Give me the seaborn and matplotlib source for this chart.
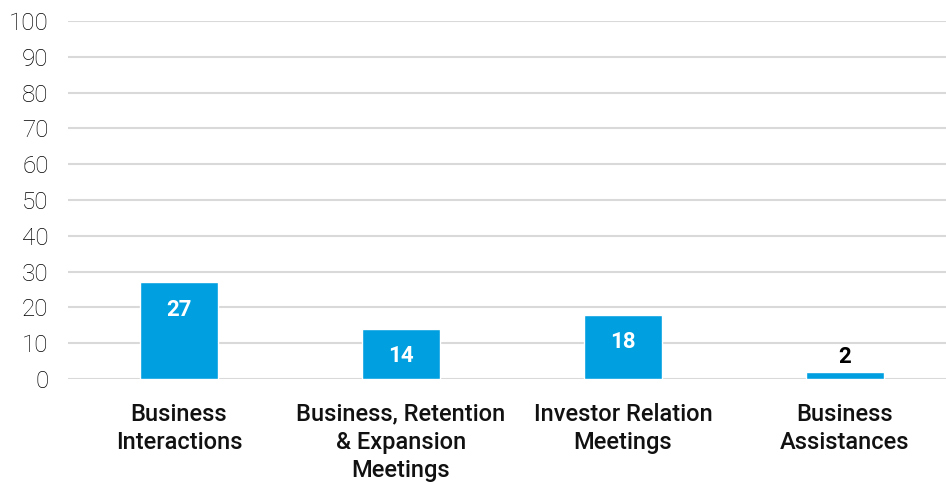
import matplotlib
matplotlib.use("Agg")
import matplotlib.pyplot as plt
import seaborn as sns
import pandas as pd

categories = ["Business\nInteractions", "Business, Retention\n& Expansion\nMeetings",
              "Investor Relation\nMeetings", "Business\nAssistances"]
values = [27, 14, 18, 2]
yticks = [0, 10, 20, 30, 40, 50, 60, 70, 80, 90, 100]

sns.set_theme(style="white")
plt.rcParams['font.family'] = ['Roboto', 'DejaVu Sans']

df = pd.DataFrame({"cat": categories, "val": values})
fig = plt.figure(figsize=(9.46, 4.82), dpi=100)
ax = fig.add_axes([0.0719, 0.2137, 0.9281, 0.7427])
sns.barplot(data=df, x="cat", y="val", color="#009FDF", saturation=1, width=0.35, ax=ax, zorder=3)
ax.set_ylim(0, 100)
ax.set_xlim(-0.5, 3.455)
ax.set_yticks(yticks)
ax.set_yticklabels([str(t) for t in yticks], fontsize=17.5, fontweight="light", color="#000000")
ax.yaxis.grid(True, color="#d9d9d9", linewidth=1.5, zorder=0)
ax.set_axisbelow(True)
for s in ax.spines.values():
    s.set_visible(False)
ax.tick_params(axis="y", length=0, pad=14)
ax.tick_params(axis="x", length=0, pad=17)
for lbl in ax.get_xticklabels():
    lbl.set_fontsize(17)
    lbl.set_fontweight("medium")
    lbl.set_linespacing(1.3)
    lbl.set_verticalalignment("top")
    lbl.set_color("#111111")
ax.set_xlabel("")
ax.set_ylabel("")

for i, v in enumerate(values):
    if v >= 5:
        ax.text(i, v - 7.6, str(v), ha="center", va="center", color="white",
                fontsize=16, fontweight="bold")
    else:
        ax.text(i, v + 4.1, str(v), ha="center", va="center", color="black",
                fontsize=16, fontweight="bold")

fig.savefig("out.png", dpi=100)
